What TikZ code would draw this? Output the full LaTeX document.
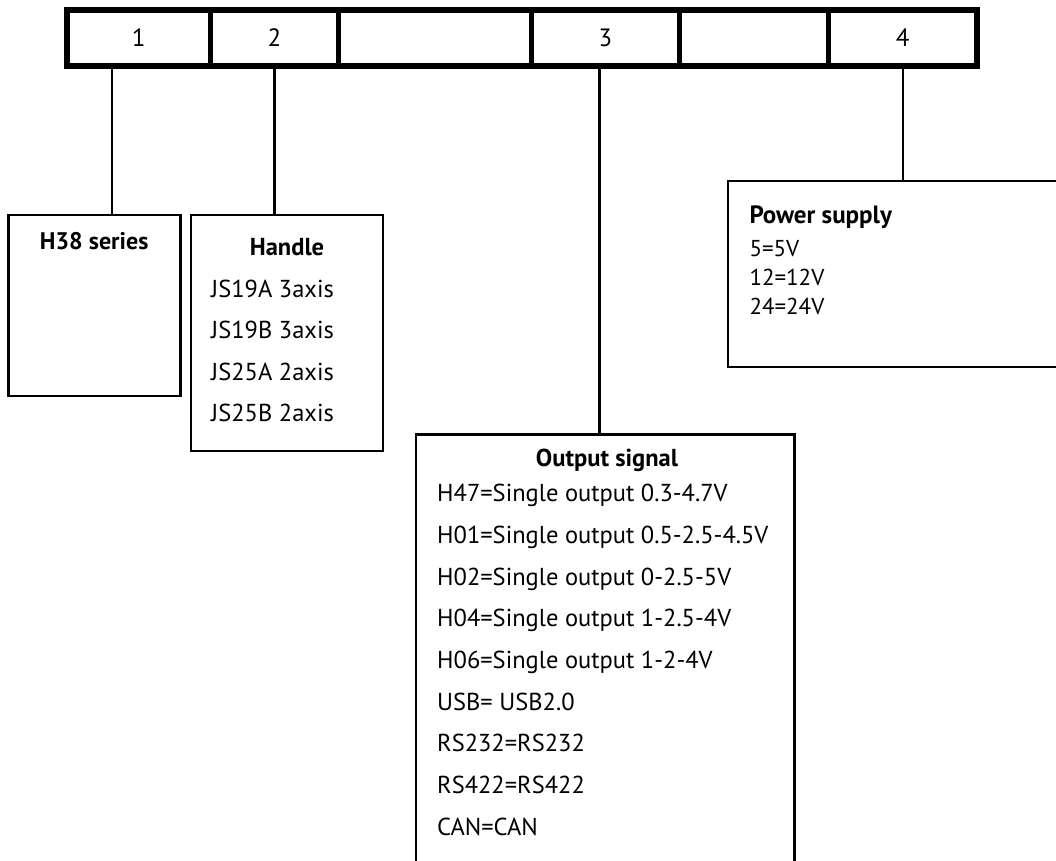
\documentclass[tikz,border=0pt]{standalone}
\usepackage{fontspec}
\setmainfont{PT Sans}
\usetikzlibrary{positioning}
\tikzset{
  code cell/.style={draw, line width=5.5pt, outer sep=0pt, inner sep=0pt,
    minimum height=55.7pt, font=\fontsize{25}{29}\selectfont},
  field box/.style={draw, line width=2.3pt, outer sep=0pt, inner sep=0pt},
  lead/.style={line width=2.3pt},
  field title/.style={font=\fontsize{24.5}{29}\selectfont\bfseries, inner sep=0pt, anchor=base},
  field item/.style={font=\fontsize{24.5}{29}\selectfont, inner sep=0pt, anchor=base west},
  small item/.style={field item, font=\fontsize{23}{27}\selectfont},
}

\begin{document}
\begin{tikzpicture}[x=1pt, y=-1pt]
  \clip (0,0) rectangle (1056,860);
  % code bar
  \node[code cell, minimum width=143.5pt] (cell1) at (138.75,38) {1};
  \node[code cell, minimum width=128pt, right=0pt of cell1] (cell2) {2};
  \node[code cell, minimum width=193pt, right=0pt of cell2] (cell3) {};
  \node[code cell, minimum width=148pt, right=0pt of cell3] (cell4) {3};
  \node[code cell, minimum width=149pt, right=0pt of cell4] (cell5) {};
  \node[code cell, minimum width=148.5pt, right=0pt of cell5] (cell6) {4};

  % field boxes
  \node[field box, minimum width=172pt, minimum height=181pt] (series) at (94.4,305.5) {};
  \node[field box, minimum width=192pt, minimum height=236pt] (handle) at (287,333) {};
  \node[field box, minimum width=378.5pt, minimum height=445.5pt] (signal) at (605.25,657.25) {};
  \node[field box, minimum width=342pt, minimum height=185.7pt] (supply) at (899.3,273.8) {};

  % leads
  \coordinate (tap1) at (112,0);
  \coordinate (tap3) at (599.5,0);
  \draw[lead] (cell1.south -| tap1) -- (series.north -| tap1);
  \draw[lead] (cell2.south) -- (cell2.south |- handle.north);
  \draw[lead] (cell4.south -| tap3) -- (signal.north -| tap3);
  \draw[lead] (cell6.south) -- (cell6.south |- supply.north);

  % H38 series
  \node[field title, font=\fontsize{24}{28}\selectfont\bfseries] (seriestitle) at (94.2,249.3) {H38 series};

  % handle
  \node[field title] (handletitle) at (287,255) {Handle};
  \node[field item] (js19a) at (211,297.3) {JS19A 3axis};
  \node[field item] (js19b) at (211,338.8) {JS19B 3axis};
  \node[field item] (js25a) at (211,380.3) {JS25A 2axis};
  \node[field item] (js25b) at (211,421.8) {JS25B 2axis};

  % output signal
  \node[field title] (signaltitle) at (607,466.7) {Output signal};
  \node[field item] (h47) at (437,501.7) {H47=Single output 0.3-4.7V};
  \node[field item] (h01) at (437,543.4) {H01=Single output 0.5-2.5-4.5V};
  \node[field item] (h02) at (437,585.0) {H02=Single output 0-2.5-5V};
  \node[field item] (h04) at (437,626.7) {H04=Single output 1-2.5-4V};
  \node[field item] (h06) at (437,668.4) {H06=Single output 1-2-4V};
  \node[field item] (usb) at (437,710.0) {USB= USB2.0};
  \node[field item] (rs232) at (437,751.7) {RS232=RS232};
  \node[field item] (rs422) at (437,793.4) {RS422=RS422};
  \node[field item] (can) at (437,835.0) {CAN=CAN};

  % power supply
  \node[field title, anchor=base west, font=\fontsize{25}{29}\selectfont\bfseries] (supplytitle) at (749.3,223.3) {Power supply};
  \node[small item] (v5) at (749.3,256) {5=5V};
  \node[small item] (v12) at (749.3,285) {12=12V};
  \node[small item] (v24) at (749.3,314) {24=24V};
\end{tikzpicture}
\end{document}
